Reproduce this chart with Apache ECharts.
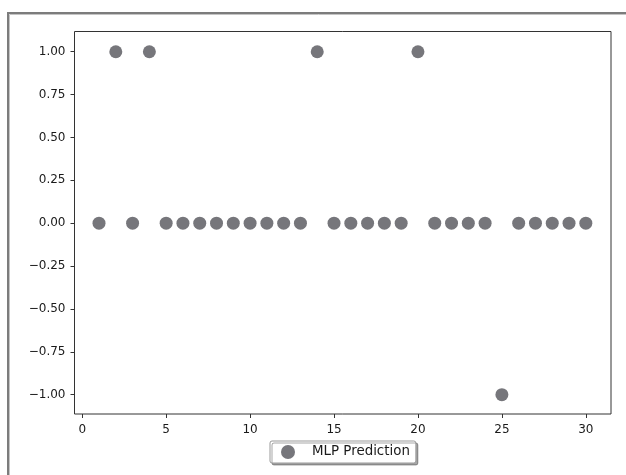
<!DOCTYPE html>
<html><head><meta charset="utf-8">
<script src="https://cdn.jsdelivr.net/npm/echarts@6/dist/echarts.min.js"></script>
<style>html,body{margin:0;padding:0;background:#fff}#c{width:626px;height:475px}</style>
</head><body><div id="c"></div>
<script>
const xValues = [1,2,3,4,5,6,7,8,9,10,11,12,13,14,15,16,17,18,19,20,21,22,23,24,25,26,27,28,29,30];
const predictions = [0,1,0,1,0,0,0,0,0,0,0,0,0,1,0,0,0,0,0,1,0,0,0,0,-1,0,0,0,0,0];
const xTicks = [0,5,10,15,20,25,30];
const yTicks = [-1,-0.75,-0.5,-0.25,0,0.25,0.5,0.75,1];
const seriesName = 'MLP Prediction';

const chart = echarts.init(document.getElementById('c'), null, {renderer:'canvas'});
const font = 'DejaVu Sans';
const fmtY = v => (v < 0 ? '\u2212' : '') + Math.abs(v).toFixed(2);
chart.setOption({
  animation:false,
  backgroundColor:'#fff',
  graphic:[{type:'rect', shape:{x:8, y:13, width:640, height:480}, style:{fill:null, stroke:'#7c7c7c', lineWidth:2}, silent:true},
           {type:'rect', shape:{x:9.5, y:14.5, width:640, height:480}, style:{fill:null, stroke:'#c4c4c4', lineWidth:1}, silent:true}],
  grid:{left:74.5, right:15, top:31.5, bottom:61, show:true, borderColor:'#333', borderWidth:1, containLabel:false},
  xAxis:{type:'value', min:-0.46, max:31.5,
    axisLine:{show:false, onZero:false}, splitLine:{show:false},
    axisTick:{show:true, inside:false, length:4, lineStyle:{color:'#333'}, customValues:xTicks},
    axisLabel:{color:'#1a1a1a', fontFamily:font, fontSize:12, margin:10, customValues:xTicks, formatter:v=>String(v)}},
  yAxis:{type:'value', min:-1.113, max:1.118,
    axisLine:{show:false, onZero:false}, splitLine:{show:false},
    axisTick:{show:true, inside:false, length:4, lineStyle:{color:'#333'}, customValues:yTicks},
    axisLabel:{color:'#1a1a1a', fontFamily:font, fontSize:12, margin:9, customValues:yTicks, formatter:fmtY}},
  legend:{left:270, top:441, data:[seriesName], icon:'circle', itemWidth:14, itemHeight:14,
    backgroundColor:'#fff', borderColor:'#999', borderWidth:1, borderRadius:2,
    shadowColor:'rgba(0,0,0,0.35)', shadowBlur:0, shadowOffsetX:2, shadowOffsetY:2,
    padding:[4,6,4,11], itemGap:10,
    textStyle:{fontFamily:font, fontSize:13.4, color:'#1a1a1a', padding:[0,0,0,12]}},
  series:[{name:seriesName, type:'scatter', symbol:'circle', symbolSize:13,
    itemStyle:{color:'#76767b', opacity:1},
    data:xValues.map((x,i)=>[x, predictions[i]])}]
});
</script></body></html>
